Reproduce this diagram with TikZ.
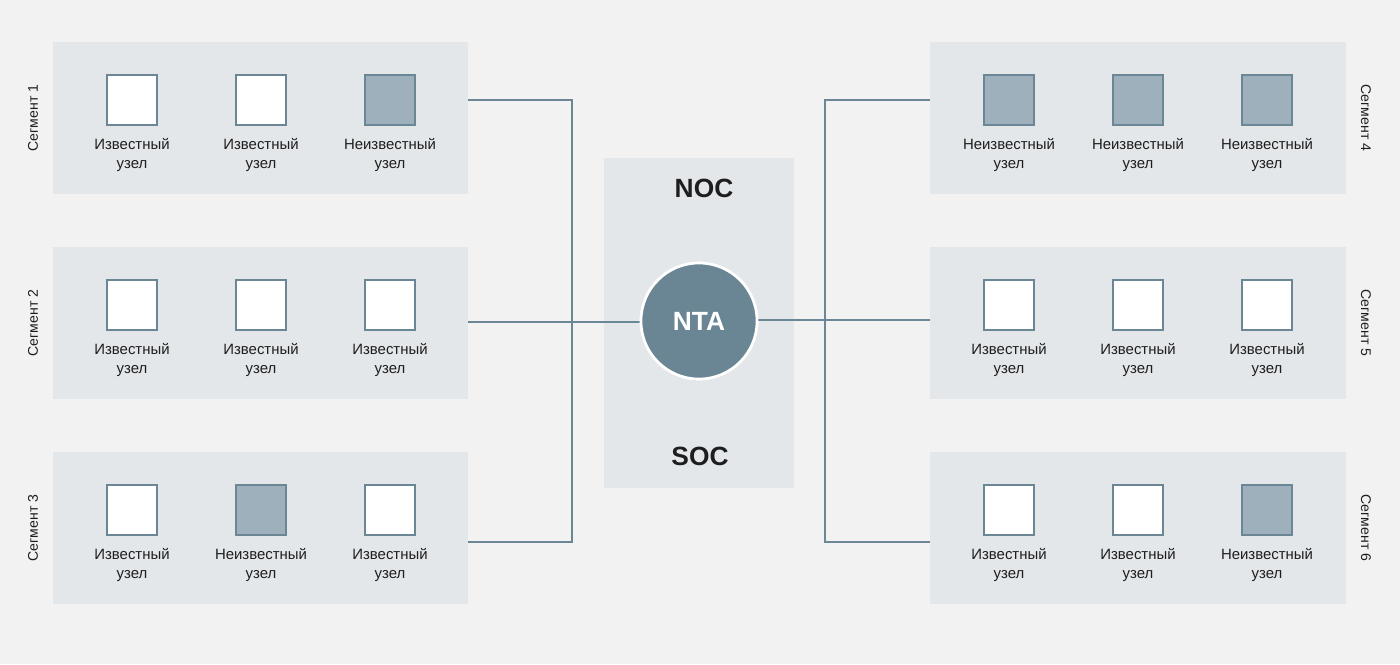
\documentclass[tikz,border=0pt]{standalone}
\usepackage{fontspec}
\setmainfont{Liberation Sans}
\begin{document}
\begin{tikzpicture}[x=0.02cm,y=-0.02cm,
  panel/.style={fill=panelc,draw=none},
  kn/.style={draw=linec,line width=2.2pt*0.567,fill=white,minimum size=50*0.02cm,inner sep=0},
  un/.style={kn,fill=unkc},
  lab/.style={font=\fontsize{8.5}{11}\selectfont,text=txtc,align=center},
  seg/.style={font=\fontsize{8}{10}\selectfont,text=txtc},
  conn/.style={draw=linec,line width=1.2pt}]
\definecolor{bgc}{HTML}{F2F2F2}
\definecolor{panelc}{HTML}{E3E7EA}
\definecolor{linec}{HTML}{6B8796}
\definecolor{unkc}{HTML}{9EB0BC}
\definecolor{txtc}{HTML}{1E1E1E}
\definecolor{ntac}{HTML}{6A8593}
\fill[bgc] (0,0) rectangle (1400,664);
\useasboundingbox (0,0) rectangle (1400,664);
% panels
\foreach \y/\n in {42/1,247/2,452/3}{
  \node[panel,minimum width=415*0.02cm,minimum height=152*0.02cm,inner sep=0] (L\n) at (260.5,\y+76) {};
  \node[panel,minimum width=416*0.02cm,minimum height=152*0.02cm,inner sep=0] (R\n) at (1138,\y+76) {};
}
\node[panel,minimum width=190*0.02cm,minimum height=330*0.02cm,inner sep=0] (C) at (699,323) {};
\node[font=\fontsize{15}{18}\selectfont\bfseries,text=txtc] (noc) at (704,188) {NOC};
\node[font=\fontsize{15}{18}\selectfont\bfseries,text=txtc] (soc) at (700,456) {SOC};
% connectors
\coordinate (la) at (572,100); \coordinate (lb) at (572,542);
\coordinate (ra) at (825,100); \coordinate (rb) at (825,542);
\node[circle,fill=ntac,draw=white,line width=1.5pt,minimum size=116*0.02cm,inner sep=0,
  font=\fontsize{15}{18}\selectfont\bfseries,text=white] (nta) at (699,321) {NTA};
\begin{scope}[on background layer/.style={}]
\end{scope}
\draw[conn] (L1.east|-la) -- (la) -- (lb) -- (L3.east|-lb);
\draw[conn] (R1.west|-ra) -- (ra) -- (rb) -- (R3.west|-rb);
\draw[conn] (L2.east|-0,322) -- (nta.west|-0,322);
\draw[conn] (R2.west|-0,320) -- (nta.east|-0,320);
\node[circle,fill=ntac,draw=white,line width=1.5pt,minimum size=116*0.02cm,inner sep=0,
  font=\fontsize{15}{18}\selectfont\bfseries,text=white] at (699,321) {NTA};
% nodes
\def\kz{Известный\\узел}
\def\uz{Неизвестный\\узел}
\foreach \xa/\xb/\xc/\y/\ta/\tb/\tc/\n in {
  132/261/390/100/kn/kn/un/a, 132/261/390/305/kn/kn/kn/b, 132/261/390/510/kn/un/kn/c,
  1009/1138/1267/100/un/un/un/d, 1009/1138/1267/305/kn/kn/kn/e, 1009/1138/1267/510/kn/kn/un/f}{
  \node[\ta] (\n1) at (\xa,\y) {};
  \node[\tb] (\n2) at (\xb,\y) {};
  \node[\tc] (\n3) at (\xc,\y) {};
  \foreach \i/\t/\xx in {1/\ta/\xa,2/\tb/\xb,3/\tc/\xc}{
    \ifnum\pdfstrcmp{\t}{un}=0
      \node[lab] (t\n\i) at (\xx,\y+55) {Неизвестный\\узел};
    \else
      \node[lab] (t\n\i) at (\xx,\y+55) {Известный\\узел};
    \fi
  }
}
\node[seg,rotate=90] (s1) at (33,118) {Сегмент 1};
\node[seg,rotate=90] (s2) at (33,323) {Сегмент 2};
\node[seg,rotate=90] (s3) at (33,528) {Сегмент 3};
\node[seg,rotate=-90] (s4) at (1366,118) {Сегмент 4};
\node[seg,rotate=-90] (s5) at (1366,323) {Сегмент 5};
\node[seg,rotate=-90] (s6) at (1366,528) {Сегмент 6};
\end{tikzpicture}
\end{document}
